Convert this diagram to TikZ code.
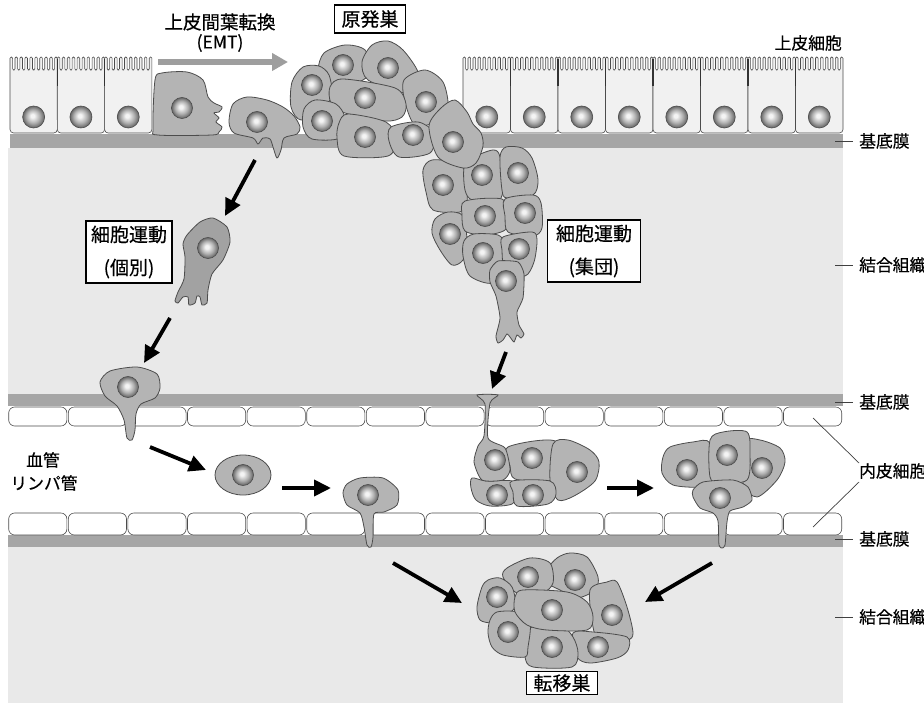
\documentclass[tikz,border=0pt]{standalone}
\usepackage{fontspec}
\setmainfont{Noto Sans CJK JP}[FakeBold=0.4]
\usetikzlibrary{arrows.meta}
\definecolor{conn}{HTML}{E9E9E9}
\definecolor{bmc}{HTML}{A6A6A6}
\definecolor{epic}{HTML}{F1F1F1}
\definecolor{cellc}{HTML}{B4B4B4}
\definecolor{cellcd}{HTML}{A2A2A2}
\definecolor{outl}{HTML}{4C4C4C}
\definecolor{nucin}{HTML}{F4F4F4}
\definecolor{nucmid}{HTML}{B0B0B0}
\definecolor{nucout}{HTML}{6A6A6A}
\definecolor{emtc}{HTML}{9E9E9E}
\pgfdeclareradialshading{nucsh}{\pgfpoint{-3bp}{3bp}}{color(0bp)=(nucin); color(4bp)=(nucin); color(15bp)=(nucmid); color(24bp)=(nucout); color(30bp)=(nucout)}
\newcommand\mycell[2][cellst]{\filldraw[#1] plot[smooth cycle, tension=0.5] coordinates {#2};}
\newcommand\mynuc[2][10.5pt]{\shadedraw[shading=nucsh, draw=outl, line width=0.6pt] (#2) circle[radius=#1];}
\newcommand\epicell[2]{%
  \pgfmathsetmacro\epf{0.055*#2}%
  \pgfmathsetmacro\epg{0.05*#2}%
  \filldraw[epist] ({#1+#2/2},133) [rounded corners=3.5pt] -- (#1,133) -- (#1,85) [rounded corners=1.2pt] -- (#1,57) -- ++(\epf,0)
    \foreach \k in {1,...,9}{ -- ++(0,13) -- ++(\epg,0) -- ++(0,-13) -- ++(\epf,0)}
    -- ++(0,28) [rounded corners=3.5pt] -- ({#1+#2},133) -- cycle;
  \mynuc[11pt]{{#1+#2/2},117}
}
\begin{document}
\begin{tikzpicture}[x=1pt,y=-1pt,
  cellst/.style={fill=cellc, draw=outl, line width=0.8pt},
  celldk/.style={fill=cellcd, draw=outl, line width=0.8pt},
  epist/.style={fill=epic, draw=outl, line width=0.6pt},
  endost/.style={fill=white, draw=outl, line width=0.6pt, rounded corners=6pt},
  arr/.style={line width=3.8pt, -{Triangle[length=17pt,width=16pt]}},
  emtarr/.style={draw=emtc, line width=5.5pt, -{Triangle[length=16pt,width=17pt]}},
  boxst/.style={draw=black, line width=1.1pt, fill=white, inner sep=0pt, align=center, font=\fontsize{19}{33}\selectfont},
  lbl/.style={inner sep=0pt, font=\fontsize{16.8}{20}\selectfont},
  lead/.style={draw=black!75, line width=0.7pt}]
\useasboundingbox (0,0) rectangle (924,703);
\fill[white] (0,0) rectangle (924,703);
% connective tissue
\fill[conn] (8,148) rectangle (843,394);
\fill[conn] (8,547) rectangle (843,703);
% basement membranes
\fill[bmc] (10,134) rectangle (843,148);
\fill[bmc] (8,394) rectangle (843,406);
\fill[bmc] (8,535) rectangle (843,547);
% epithelium
\foreach \i in {0,1,2}{ \epicell{10+47.3*\i}{47.3} }
\foreach \i in {0,...,7}{ \epicell{463+47.5*\i}{47.5} }
\foreach \xx in {57.3,104.6} {\draw[line width=1.1pt, black!80] (\xx,59) -- (\xx,86);}
\foreach \i in {1,...,7} {\draw[line width=1.1pt, black!80] ({463+47.5*\i},59) -- ({463+47.5*\i},86);}
% endothelium
\foreach \k in {0,...,13}{
  \draw[endost] ({8+59.6*\k+0.7},407) rectangle ({8+59.6*\k+58.9},426);
  \draw[endost] ({8+59.6*\k+0.7},513) rectangle ({8+59.6*\k+58.9},535);
}
% EMT cells
\mycell{(155,80) (162,73) (187,72) (203,80) (208,97) (214,103) (222,107) (219,112) (214,113) (219,118) (216,122) (222,127) (219,132) (212,135) (158,135) (153,128)}
\mynuc{182,108}
\mycell{(229,122) (233,104) (247,97) (267,100) (283,107) (294,116) (300,127) (297,134) (284,138) (281,150) (277,158) (273,147) (270,139) (263,138) (258,144) (253,138) (234,133)}
\mynuc{257,122}
% collective strand
\mycell{(423,170) (432,160) (458,163) (466,175) (467,202) (460,212) (433,210) (426,192)}
\mycell{(464,168) (472,158) (493,150) (500,157) (503,190) (496,203) (472,200) (465,190)}
\mycell{(500,157) (506,147) (522,148) (532,158) (538,180) (533,195) (507,198) (502,190)}
\mycell{(435,219) (448,212) (463,216) (467,242) (463,260) (452,265) (440,250) (432,233)}
\mycell{(465,201) (502,199) (509,215) (505,230) (485,235) (465,231) (462,215)}
\mycell{(505,199) (533,195) (541,203) (542,228) (533,236) (508,232) (505,216)}
\mycell{(464,241) (474,234) (498,235) (504,244) (502,263) (492,283) (470,276) (463,256)}
\mycell{(503,237) (532,232) (537,240) (534,262) (525,276) (505,268) (502,250)}
\filldraw[cellst] plot[smooth cycle, tension=0.35] coordinates {(490,270) (498,261) (518,262) (524,274) (523,298) (517,312) (519,325) (524,334) (521,338) (517,335) (514,342) (510,337) (507,334) (503,340) (498,343) (496,336) (500,318) (496,296) (490,282)};
\mynuc{443,185} \mynuc{482,175} \mynuc{518,173} \mynuc{450,234} \mynuc{485,216} \mynuc{525,213} \mynuc{483,253} \mynuc{519,249} \mynuc{506,281}
% primary tumour
\mycell{(318,70) (324,53) (345,45) (365,50) (372,72) (350,86) (322,88)}
\mycell{(362,62) (372,45) (388,41) (403,50) (418,72) (416,90) (404,93) (368,80)}
\mycell{(404,80) (425,70) (443,82) (448,108) (436,122) (415,125) (405,102)}
\mycell{(292,82) (303,67) (319,66) (329,75) (332,96) (322,108) (301,120) (291,107)}
\mycell{(330,87) (343,79) (395,88) (406,104) (402,117) (385,121) (345,113) (331,103)}
\mycell{(304,109) (315,100) (336,104) (345,118) (340,138) (312,139) (303,127)}
\mycell{(339,123) (348,114) (386,122) (396,139) (388,156) (344,156) (337,138)}
\mycell{(391,127) (418,122) (434,133) (430,153) (399,157) (389,141)}
\mycell{(429,126) (441,108) (455,100) (467,112) (473,124) (481,133) (483,146) (476,163) (463,168) (438,157)}
\mynuc{343,65} \mynuc{388,68} \mynuc{312,85} \mynuc{365,98} \mynuc{426,102} \mynuc{322,121} \mynuc{365,137} \mynuc{413,135} \mynuc{453,142}
% individual route
\filldraw[celldk] plot[smooth cycle, tension=0.4] coordinates {(187,235) (200,222) (213,218) (227,227) (230,242) (223,260) (212,274) (208,290) (207,303) (202,305) (200,297) (197,296) (195,303) (189,305) (188,297) (183,297) (178,303) (175,301) (178,292) (184,279) (185,257) (183,244)};
\mynuc{208,248}
\filldraw[cellst] plot[smooth cycle, tension=0.45] coordinates {(100,382) (110,371) (137,367) (157,374) (160,388) (155,398) (141,404) (136,414) (135,430) (132,440) (127,438) (124,420) (117,406) (105,396)};
\mynuc{128,387}
\filldraw[cellst] (243,475) ellipse[x radius=28pt, y radius=20pt];
\mynuc{243,475}
\filldraw[cellst] plot[smooth cycle, tension=0.45] coordinates {(343,493) (347,484) (360,478) (383,478) (398,490) (397,505) (384,512) (374,514) (373,537) (371,547) (367,545) (364,527) (360,513) (347,505)};
\mynuc{368,495}
% cluster in lumen 1
\mycell{(508,447) (555,441) (559,472) (548,481) (515,479) (510,466)}
\mycell{(553,444) (568,440) (590,450) (599,462) (595,481) (574,496) (558,500) (550,480)}
\mycell{(472,478) (486,481) (512,481) (518,492) (512,504) (490,506) (476,500) (471,488)}
\mycell{(512,481) (550,481) (556,494) (548,504) (517,506) (513,492)}
\filldraw[cellst] plot[smooth cycle, tension=0.4] coordinates {(477,395) (498,395) (490,403) (488,438) (505,448) (510,470) (503,480) (482,480) (474,462) (478,446) (484,436) (485,404)};
\mynuc{495,460} \mynuc{532,458} \mynuc{577,472} \mynuc{497,495} \mynuc{533,495}
% cluster in lumen 2
\mycell{(663,457) (670,447) (693,442) (710,443) (713,480) (700,487) (673,485) (662,473)}
\mycell{(745,442) (760,440) (780,448) (785,462) (777,480) (757,497) (743,483)}
\mycell{(710,440) (723,432) (747,432) (750,453) (747,480) (720,483) (710,477)}
\filldraw[cellst] plot[smooth cycle, tension=0.4] coordinates {(693,490) (703,482) (733,480) (748,487) (752,500) (743,507) (730,511) (727,522) (725,545) (722,548) (719,545) (718,521) (713,513) (700,508) (693,497)};
\mynuc{687,470} \mynuc{727,455} \mynuc{762,468} \mynuc{720,498}
% metastasis
\mycell{(547,570) (557,558) (570,553) (587,557) (598,577) (595,590) (577,598) (560,590) (548,583)}
\mycell{(503,577) (507,568) (530,558) (550,563) (553,583) (542,593) (517,593)}
\mycell{(590,590) (607,582) (617,582) (627,607) (633,633) (627,640) (600,640) (593,627)}
\mycell{(477,607) (482,587) (488,580) (500,578) (512,587) (515,607) (500,620) (492,623) (480,620)}
\mycell{(573,633) (593,632) (627,637) (628,650) (617,658) (590,663) (577,657)}
\mycell{(525,633) (533,627) (560,625) (573,637) (578,653) (572,667) (533,667) (525,657)}
\mycell{(490,620) (497,612) (517,612) (530,623) (528,647) (525,657) (503,655) (492,647) (488,633)}
\mycell{(515,597) (523,590) (567,592) (587,602) (593,617) (587,630) (547,630) (527,625) (515,612)}
\mynuc{528,577} \mynuc{575,580} \mynuc{497,597} \mynuc{552,610} \mynuc{612,615} \mynuc{508,632} \mynuc{552,647} \mynuc{598,647}
% arrows
\coordinate (e0) at (158,62); \coordinate (e1) at (288,62);
\draw[emtarr] (e0) -- (e1);
\coordinate (a1s) at (255,160); \coordinate (a1e) at (225,216);
\coordinate (a2s) at (170,318); \coordinate (a2e) at (144,363);
\coordinate (a3s) at (150,447); \coordinate (a3e) at (206,470);
\coordinate (a4s) at (282,488); \coordinate (a4e) at (331,488);
\coordinate (a5s) at (506,352); \coordinate (a5e) at (492,389);
\coordinate (a6s) at (607,488); \coordinate (a6e) at (654,488);
\coordinate (a7s) at (393,563); \coordinate (a7e) at (462,603);
\coordinate (a8s) at (712,563); \coordinate (a8e) at (645,602);
\foreach \a in {1,...,8}{ \draw[arr] (a\a s) -- (a\a e); }
% texts
\node[inner sep=0pt, font=\fontsize{18.5}{22}\selectfont] (emt1) at (220,22) {上皮間葉転換};
\node[inner sep=0pt, font=\fontsize{17.5}{22}\selectfont] (emt2) at (220,43) {(EMT)};
\node[boxst, minimum width=71pt, minimum height=28pt] (prim) at (370,19) {原発巣};
\node[boxst, minimum width=86pt, minimum height=62pt] (ind) at (129,252) {細胞運動\\(個別)};
\node[boxst, minimum width=93pt, minimum height=62pt] (col) at (594,251) {細胞運動\\(集団)};
\node[boxst, minimum width=71pt, minimum height=23pt] (meta) at (562,683) {転移巣};
\node[lbl] (v1) at (43,460) {血管};
\node[lbl] (v2) at (44,483) {リンパ管};
\node[lbl, anchor=east] (epi) at (842,43) {上皮細胞};
\node[lbl, anchor=west] (bm1) at (859,141) {基底膜};
\node[lbl, anchor=west] (ct1) at (859,265) {結合組織};
\node[lbl, anchor=west] (bm2) at (859,402) {基底膜};
\node[lbl, anchor=west] (en) at (859,471) {内皮細胞};
\node[lbl, anchor=west] (bm3) at (859,539) {基底膜};
\node[lbl, anchor=west] (ct2) at (859,617) {結合組織};
\foreach \n in {bm1,ct1,bm2,bm3,ct2}{ \draw[lead] ([xshift=-24pt]\n.west) -- ([xshift=-6pt]\n.west); }
\coordinate (en1) at (813,418); \coordinate (en2) at (813,527);
\draw[lead] (en1) -- ([yshift=8pt]en.west);
\draw[lead] (en2) -- ([yshift=-11pt]en.west);
\end{tikzpicture}
\end{document}
